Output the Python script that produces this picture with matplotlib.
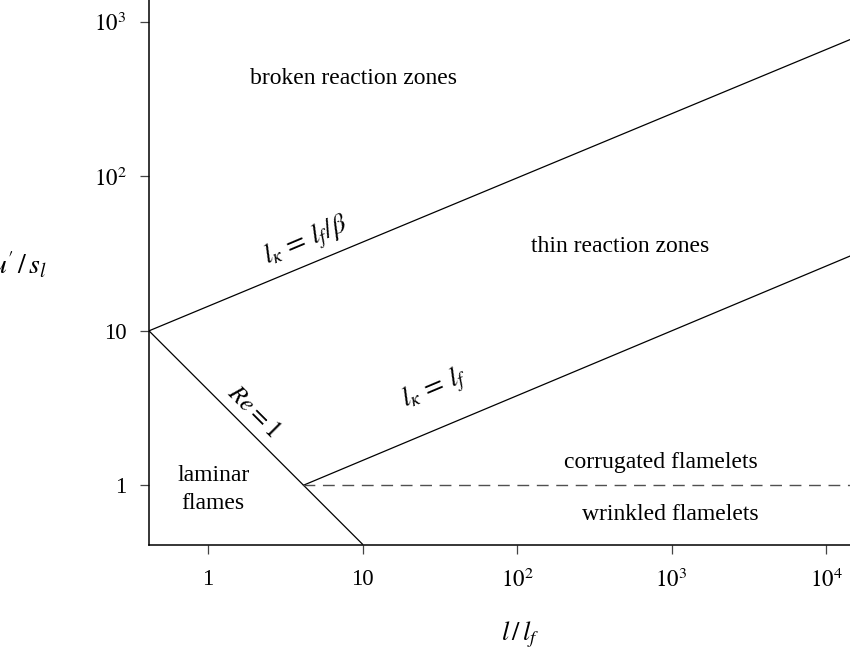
import matplotlib
matplotlib.use("Agg")
import matplotlib.pyplot as plt

plt.rcParams.update({
    "font.family": ["Liberation Serif", "DejaVu Serif"],
    "mathtext.fontset": "stix",
    "font.size": 17,
})

# axis ranges
x_range = [0.415, 14300]
y_range = [0.41, 1390]

# boundary lines, endpoints
re1_x = [0.415, 10]
re1_y = [10, 0.415]
thin_x = [4.15, 14300]          # l_K = l_f
thin_y = [1, 30.5]
broken_x = [0.415, 14300]       # l_K = l_f / beta
broken_y = [10, 770]
flamelet_x = [4.15, 14300]      # u'/s_l = 1
flamelet_y = [1, 1]

x_ticks = [1, 10, 100, 1000, 10000]
x_ticklabels = ["1", "10", r"$10^2$", r"$10^3$", r"$10^4$"]
y_ticks = [1, 10, 100, 1000]
y_ticklabels = ["1", "10", r"$10^2$", r"$10^3$"]

regions = [
    ("broken reaction zones", 8.7, 434),
    ("thin reaction zones", 464, 35.4),
    ("corrugated flamelets", 855, 1.41),
    ("wrinkled flamelets", 977, 0.65),
    ("laminar\nflames", 1.08, 0.94),
]

line_labels = [
    (r"$l_\kappa\, =\, l_f/\beta$", 4.31, 38.0, 22.8, 20),
    (r"$l_\kappa\, =\, l_f$", 29.5, 4.2, 22.8, 20),
    (r"$Re = 1$", 1.95, 3.02, -45, 18),
]

fig = plt.figure(figsize=(8.5, 6.56), dpi=100)
ax = fig.add_axes([149 / 850, 111 / 656, 701 / 850, 545 / 656])

lw = 0.9
ax.plot(re1_x, re1_y, color="black", lw=lw)
ax.plot(thin_x, thin_y, color="black", lw=lw)
ax.plot(broken_x, broken_y, color="black", lw=lw)
ax.plot(flamelet_x, flamelet_y, color="#505050", lw=1.0, dashes=(8.5, 5.5))

ax.set_xscale("log")
ax.set_yscale("log")
ax.set_xlim(x_range)
ax.set_ylim(y_range)

ax.set_xticks(x_ticks)
ax.set_xticklabels(x_ticklabels)
ax.set_yticks(y_ticks)
ax.set_yticklabels(y_ticklabels)
ax.minorticks_off()
ax.tick_params(axis="both", direction="out", length=6.2, width=0.9,
               labelsize=16.5, color="#444444")
ax.tick_params(axis="x", pad=11)
ax.tick_params(axis="y", pad=10)

for side in ["top", "right"]:
    ax.spines[side].set_visible(False)
for side in ["left", "bottom"]:
    ax.spines[side].set_linewidth(1.1)

for text, x, y in regions:
    ax.text(x, y, text, ha="center", va="center", fontsize=17, linespacing=1.45)

for text, x, y, rot, fs in line_labels:
    ax.text(x, y, text, ha="center", va="center", fontsize=fs,
            rotation=rot, rotation_mode="anchor")

ax.text(-0.1455, 0.514, r"$u^{\prime}\,/\,s_l$", transform=ax.transAxes,
        ha="right", va="center", fontsize=20)
ax.text(0.529, -0.165, r"$l\,/\,l_f$", transform=ax.transAxes,
        ha="center", va="center", fontsize=19)

fig.savefig("out.png", dpi=100)
